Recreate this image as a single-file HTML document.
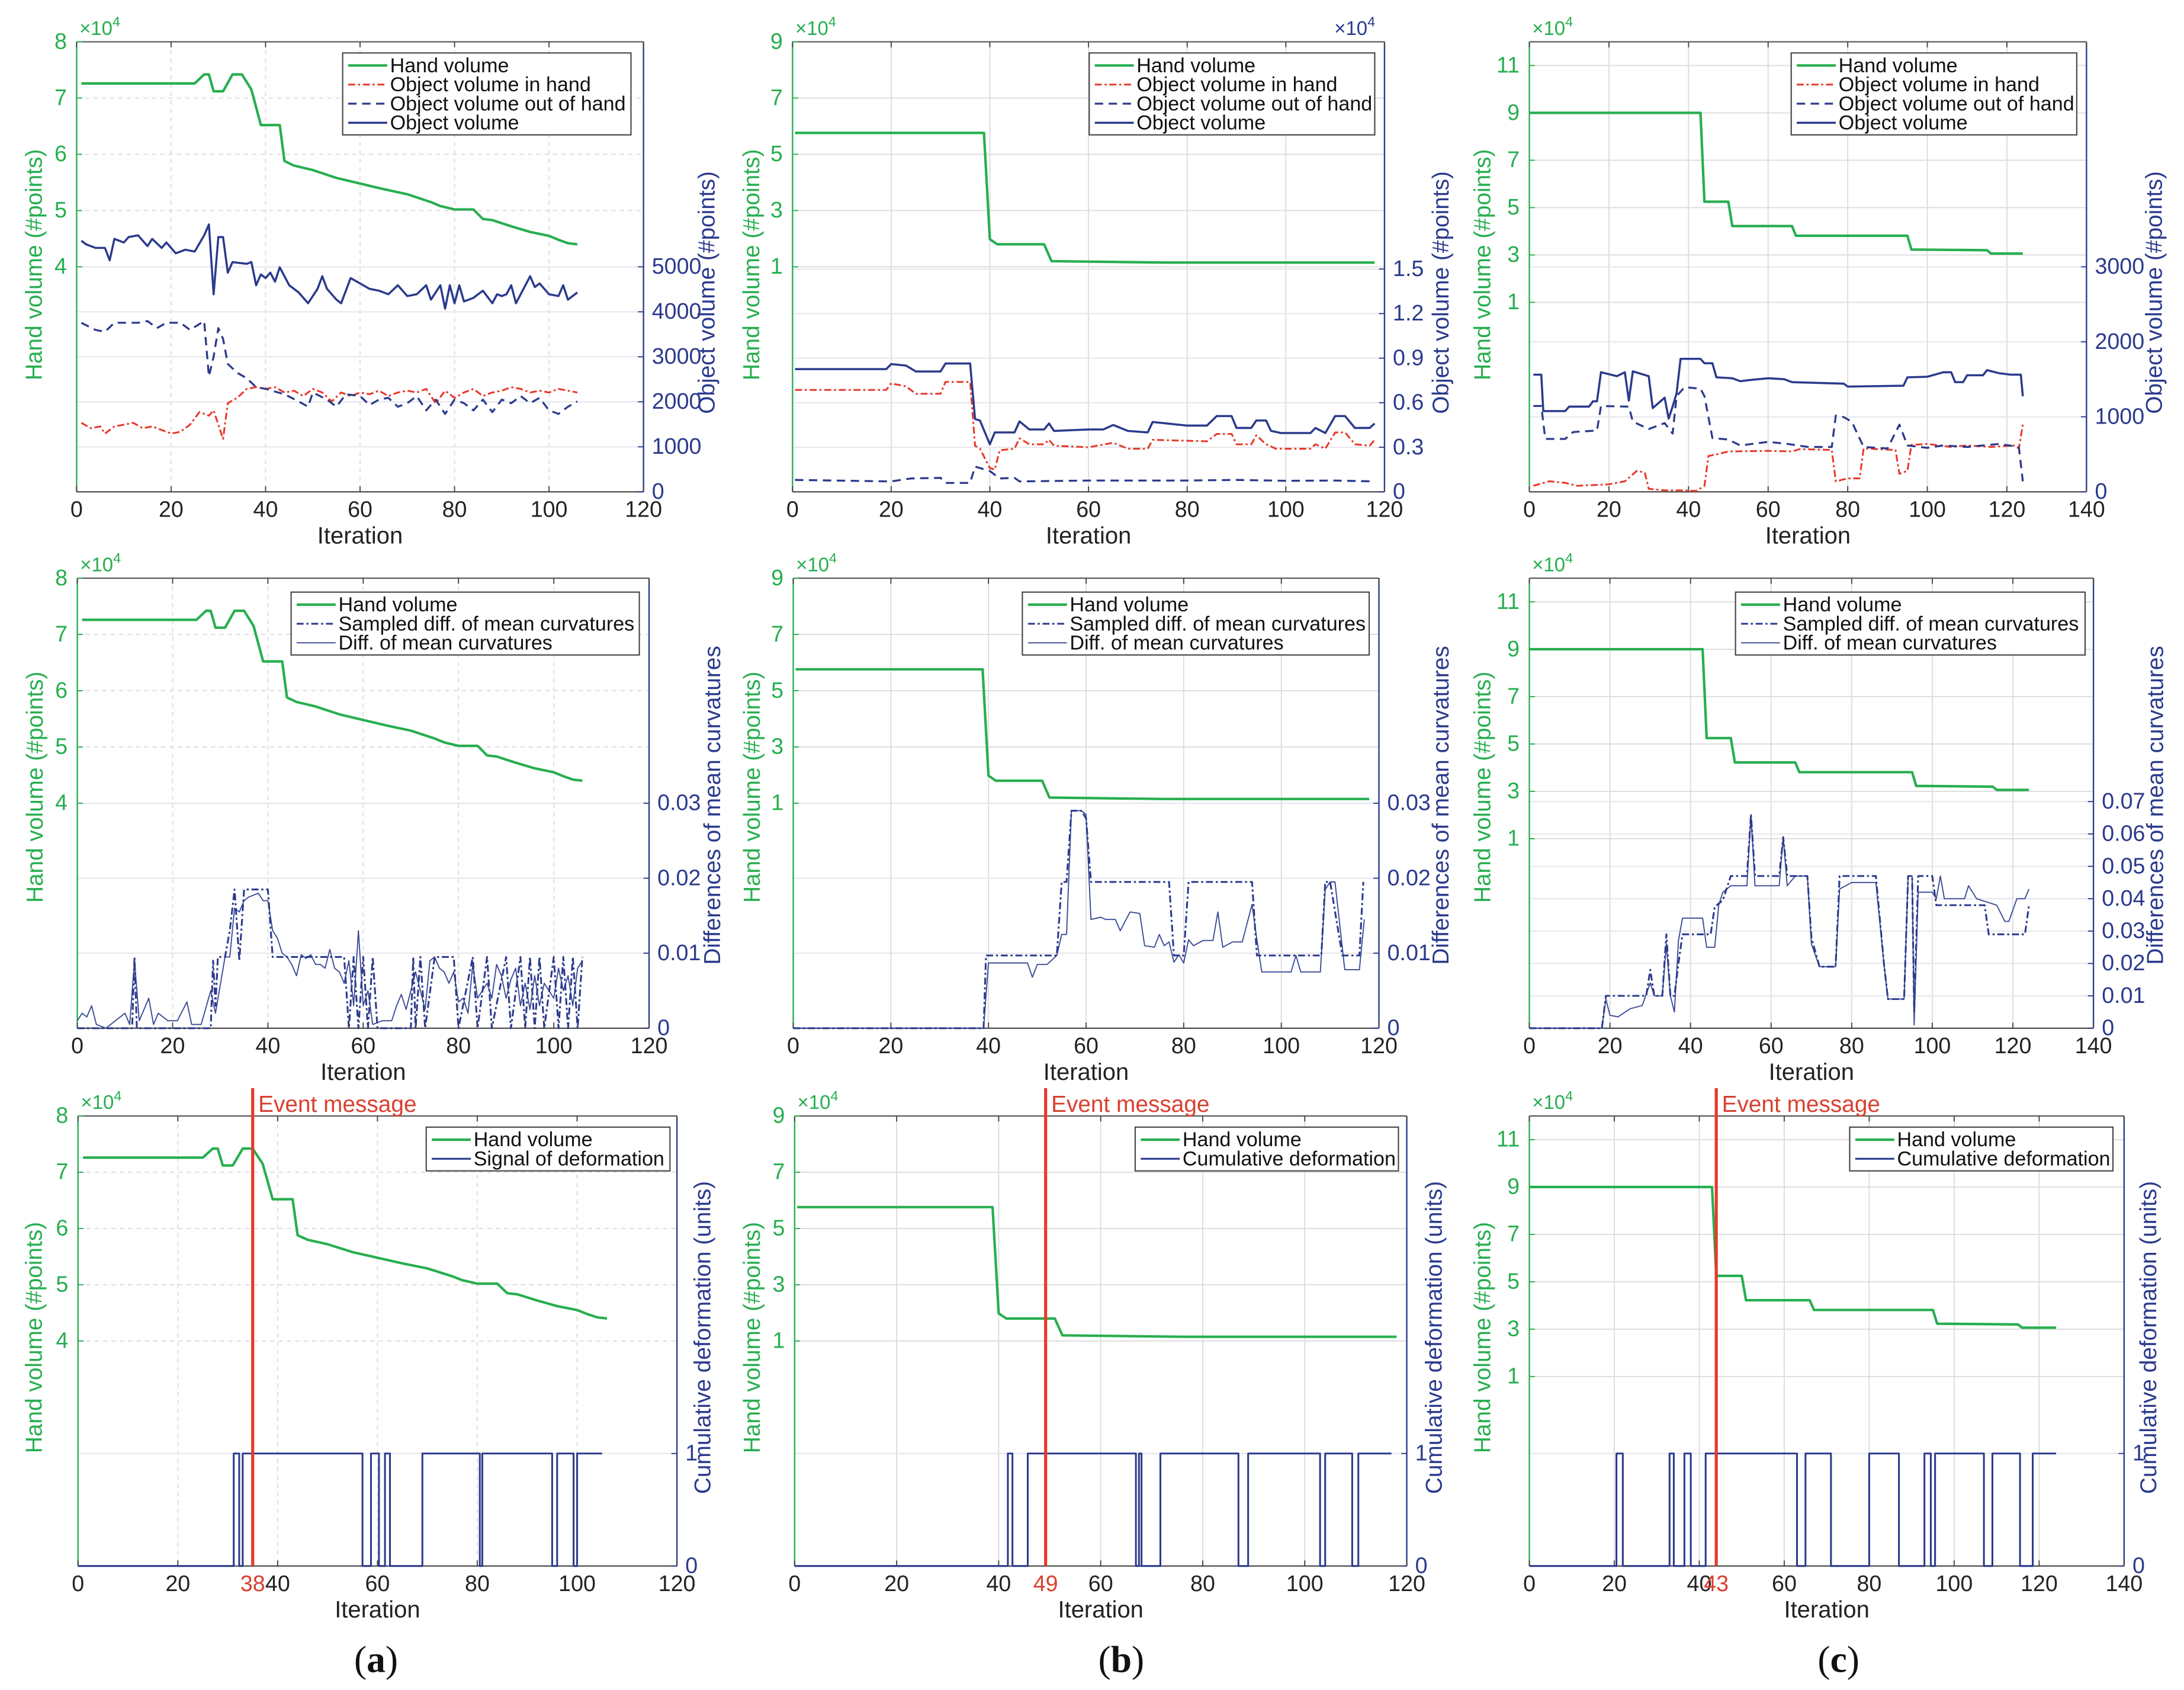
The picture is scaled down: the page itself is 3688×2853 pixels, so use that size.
<!DOCTYPE html>
<html><head><meta charset="utf-8"><style>
html,body{margin:0;padding:0;background:#fff}
svg{display:block}
text{font-family:"Liberation Sans",sans-serif}
text.serif{font-family:"Liberation Serif",serif}
</style></head><body>
<svg id="fig" xmlns="http://www.w3.org/2000/svg" width="3688" height="2853" viewBox="0 0 1568 1213"></svg>
<script>
// ===== DATA =====
// Column (a)
const handAIter=[1,25,27,28,29,31,33,35,37,39,43,44,46,50,55,60,65,70,75,77,80,84,86,88,92,96,100,102,104,106];
const handAVal=[7.26,7.26,7.42,7.42,7.12,7.12,7.42,7.42,7.15,6.52,6.52,5.88,5.80,5.72,5.58,5.48,5.38,5.29,5.15,5.08,5.02,5.02,4.85,4.83,4.72,4.62,4.55,4.48,4.42,4.40];
const objAIter=[1,2,4,6,7,8,10,11,13,15,16,18,19,21,23,25,27,28,29,30,31,32,33,36,37,38,39,40,41,42,43,45,47,49,51,52,53,55,56,58,60,62,64,66,68,70,72,74,75,77,78,79,80,81,82,84,86,88,89,90,91,92,93,96,97,98,100,102,103,104,106];
const objAVal=[5580,5500,5420,5420,5145,5620,5540,5660,5700,5460,5620,5420,5540,5300,5380,5340,5700,5940,4390,5660,5660,4870,5105,5066,5105,4590,4830,4750,4870,4670,4990,4590,4430,4190,4510,4790,4510,4270,4190,4750,4630,4510,4470,4390,4590,4350,4390,4590,4270,4590,4070,4590,4190,4590,4230,4310,4470,4190,4390,4350,4390,4590,4190,4790,4550,4630,4390,4350,4590,4270,4430];
const outAIter=[1,4,6,8,13,15,17,19,22,24,27,28,29,30,31,32,34,36,38,40,44,47,49,50,53,55,57,60,62,64,66,68,70,72,74,76,78,80,82,84,86,88,90,92,94,96,98,100,102,104,106];
const outAVal=[3756,3597,3557,3756,3756,3795,3637,3756,3756,3597,3795,2565,3001,3637,3398,2843,2644,2525,2326,2287,2168,2009,1890,2207,2049,1890,2168,2128,1929,2049,2088,1890,1969,2128,1810,2049,1731,2049,1969,1810,2049,1771,2049,1969,2128,1969,2088,1810,1731,1890,2009];
const inAIter=[1,3,5,6,8,10,12,14,16,18,20,22,24,26,28,29,31,32,34,36,38,40,42,44,46,48,50,52,54,56,58,60,62,64,66,68,70,72,74,76,78,80,82,84,86,88,90,92,94,96,98,100,102,104,106];
const inAVal=[1532,1413,1453,1294,1453,1493,1532,1413,1453,1374,1294,1334,1493,1771,1691,1810,1175,1969,2088,2287,2326,2287,2326,2207,2247,2128,2287,2207,2009,2207,2128,2207,2168,2247,2128,2207,2247,2207,2287,1969,2247,2088,2207,2287,2128,2207,2247,2326,2287,2207,2247,2207,2287,2247,2207];
const curvSampAIter=[0,11.5,12,12.5,28,28.5,29,29.5,31,32,33,34,35,40,41,56,57,58,59,60,61,62,63,70,70.5,71,72,73,75,79,80,83,84,86,87,90,91,93,94,95,96,97,98,100,101,102,103,104,105,106];
const curvSampAVal=[0,0,0.0095,0,0,0.009,0.003,0.0095,0.0095,0.013,0.0185,0.009,0.0185,0.0185,0.0095,0.0095,0,0.0095,0,0.0095,0,0.0095,0,0,0.0095,0,0.0095,0,0.0095,0.0095,0,0.0095,0,0.0095,0,0.0095,0,0.0095,0,0.0095,0,0.0095,0,0.0095,0,0.0095,0,0.0095,0,0.0095];
const curvAIter=[0,1,2,3,4,6,8,10,11,12,13,15,16,17,19,21,23,24,26,28,29,31,32,33,34,35,36,38,39,40,41,42,43,44,45,46,47,48,49,50,51,52,53,54,55,56,57,58,59,60,61,62,64,66,67,68,69,70,71,72,73,74,75,76,77,78,79,80,81,82,83,84,86,87,88,89,90,91,92,93,94,95,96,97,98,99,100,101,102,103,104,105,106];
const curvAVal=[0.001,0.002,0.0015,0.003,0.0005,0,0.001,0.002,0.0005,0.009,0.001,0.004,0.0005,0.002,0.001,0.001,0.0035,0.0005,0.0005,0.005,0.002,0.0095,0.0095,0.016,0.0155,0.017,0.0175,0.018,0.017,0.017,0.013,0.012,0.01,0.0095,0.0085,0.007,0.0098,0.0093,0.0098,0.0085,0.0085,0.008,0.0105,0.008,0.0075,0.006,0.009,0.003,0.013,0.003,0.005,0.0005,0.001,0.001,0.003,0.0045,0.0025,0.005,0.0075,0.005,0.0025,0.009,0.0095,0.008,0.0075,0.006,0.0075,0.0035,0.004,0.002,0.0085,0.004,0.006,0.004,0.0085,0.007,0.004,0.0065,0.008,0.003,0.006,0.0025,0.007,0.003,0.006,0.005,0.004,0.008,0.005,0.007,0.003,0.008,0.009];
const defAIter=[0,31.2,32.3,33,57,58.7,60.3,61.5,62.5,69,80.5,81,95,96,99.3,100,105];
const defAVal=[0,1,0,1,0,1,0,1,0,1,0,1,0,1,0,1,1];
// Column (b)
const handBIter=[0.5,38.8,40,41.5,51,52.5,76,118];
const handBVal=[5.76,5.76,1.98,1.8,1.8,1.2,1.15,1.15];
const objBIter=[0.5,19,20,23,25,30,31,36,37,38,40,41,45,46,48,51,52,53,60,63,65,68,72,73,80,84,86,89,90,93,94,96,97,99,105,106,108,110,112,114,117,118];
const objBVal=[0.826,0.826,0.86,0.85,0.81,0.81,0.864,0.864,0.49,0.48,0.32,0.40,0.40,0.474,0.42,0.42,0.46,0.41,0.42,0.42,0.45,0.41,0.40,0.47,0.446,0.446,0.51,0.51,0.43,0.43,0.48,0.48,0.41,0.396,0.396,0.43,0.396,0.51,0.51,0.43,0.43,0.46];
const inBIter=[0.5,19,20,23,25,30,31,36,37,38,40,41,42,45,46,48,51,52,53,60,65,68,72,73,84,86,89,90,93,94,96,98,105,106,108,110,112,114,117,118];
const inBVal=[0.686,0.686,0.73,0.71,0.66,0.66,0.74,0.74,0.31,0.29,0.16,0.15,0.28,0.29,0.36,0.32,0.32,0.35,0.31,0.30,0.33,0.29,0.29,0.35,0.34,0.39,0.39,0.32,0.32,0.38,0.32,0.29,0.29,0.32,0.29,0.40,0.40,0.32,0.31,0.35];
const outBIter=[0.5,20,24,30,31,36,37,40,42,45,46,60,80,90,100,110,118];
const outBVal=[0.08,0.07,0.09,0.094,0.06,0.06,0.17,0.14,0.09,0.094,0.07,0.076,0.076,0.08,0.074,0.076,0.07];
const curvSampBIter=[0,39,39.5,54,55,56,57,59,60,61,77,78,80,81,94,95,108.2,109,110,112.5,116,116.8];
const curvSampBVal=[0,0,0.0097,0.0097,0.0195,0.0195,0.029,0.029,0.028,0.0195,0.0195,0.0097,0.0097,0.0195,0.0195,0.0097,0.0097,0.0195,0.0195,0.0097,0.0097,0.0195];
const curvBIter=[0,39,40,48,49,50,52,54,55,56,57,59,60,61,63,64,66,67,69,71,72,74,75,76,77,78,79,80,81,82,84,86,87,88,90,92,94,95,96,102,103,104,108,109,110,111,113,116,117];
const curvBVal=[0,0,0.0087,0.0087,0.0068,0.0085,0.0085,0.0097,0.0125,0.0125,0.029,0.029,0.0285,0.0145,0.0148,0.0145,0.0145,0.013,0.0155,0.0153,0.011,0.0108,0.0125,0.011,0.0115,0.0088,0.0098,0.0087,0.0118,0.011,0.0117,0.0117,0.0155,0.0108,0.0115,0.0115,0.0165,0.0118,0.0075,0.0075,0.0097,0.0075,0.0075,0.0185,0.0195,0.0195,0.0078,0.0078,0.0145];
const defBIter=[0,41.8,42.7,45.7,66.9,67.5,68,68.5,71.7,87,88.9,103,104,109.3,110.5,117];
const defBVal=[0,1,0,1,0,1,0,0,1,0,1,0,1,0,1,1];
// Column (c)
const handCIter=[0,43,44,50,51,66,67,95,96,115,116,124];
const handCVal=[9.0,9.0,5.25,5.25,4.22,4.22,3.81,3.81,3.23,3.2,3.06,3.06];
const objCIter=[1,3,3.5,9,10,15,16,17,18,22,24,25,26,30,31,34,35,36,37,38,43,44,46,47,51,53,56,60,64,66,79,80,94,95,100,104,106,107,109,110,114,115,118,121,123.5,124];
const objCVal=[1562,1562,1076,1076,1136,1136,1207,1207,1594,1542,1594,1215,1606,1542,1116,1255,976,1136,1315,1773,1773,1714,1714,1526,1514,1475,1494,1514,1502,1462,1442,1403,1415,1526,1534,1594,1594,1462,1462,1554,1554,1622,1582,1562,1562,1275];
const outCIter=[1,3,4,9,11,17,18,25,26,30,34,36,37,39,43,44,46,50,53,60,65,70,76,77,79,81,84,90,93,95,100,104,110,118,123,124];
const outCVal=[1144,1144,705,705,797,817,1144,1136,936,837,916,777,1275,1395,1375,1275,717,697,618,666,638,598,598,1016,996,936,598,578,896,618,586,618,598,638,598,140];
const inCIter=[1,5,9,12,20,24,27,29,30,34,38,42,44,45,47,50,60,66,68,76,77,80,83,84,92,93,95,96,100,106,110,116,122,123,124];
const inCVal=[80,140,120,80,100,140,279,259,40,20,20,12,80,478,498,538,546,538,570,558,140,179,179,578,558,239,279,626,638,598,618,598,618,578,897];
const curvSampCIter=[0,18,19,29,30,31,33,34,35,36,37,38,45,46,48,50,54,55,56,62,63,64,69,70,72,76,77,86,88,89,93,94,95,95.5,96.5,100,101,113,114,123,124];
const curvSampCVal=[0,0,0.01,0.01,0.018,0.01,0.01,0.029,0.01,0.01,0.02,0.029,0.029,0.0375,0.0395,0.047,0.047,0.066,0.047,0.047,0.059,0.047,0.047,0.028,0.019,0.019,0.047,0.047,0.02,0.009,0.009,0.047,0.047,0.005,0.047,0.047,0.038,0.038,0.029,0.029,0.038];
const curvCIter=[0,18,19,20,22,25,28,30,31,33,34,35,36,37,38,43,44,46,47,48,50,54,55,56,62,63,64,66,69,70,72,76,77,80,86,88,89,93,94,95,95.5,96.5,100,101,102,103,108,109,111,116,118,119,121,123,124];
const curvCVal=[0,0,0.009,0.004,0.0035,0.006,0.007,0.014,0.01,0.01,0.026,0.01,0.005,0.027,0.034,0.034,0.025,0.025,0.038,0.042,0.044,0.044,0.066,0.044,0.044,0.059,0.044,0.047,0.047,0.026,0.019,0.019,0.043,0.045,0.045,0.02,0.009,0.009,0.047,0.047,0.001,0.042,0.042,0.04,0.047,0.04,0.04,0.044,0.04,0.038,0.033,0.033,0.04,0.04,0.043];
const defCIter=[0,20.5,22,33,34,36.5,38,41.5,63,65,71,80,87,93,94.5,95.5,107,109,115.5,118.5,124];
const defCVal=[0,1,0,1,0,1,0,1,0,1,0,1,0,1,0,1,0,1,0,1,1];
// Tick labels
const xTicksAB=[0,20,40,60,80,100,120];
const xTicksC=[0,20,40,60,80,100,120,140];
const handTicksA=[4,5,6,7,8];
const handTicksBC_B=[1,3,5,7,9];
const handTicksC=[1,3,5,7,9,11];
const objTicksA=[0,1000,2000,3000,4000,5000];
const objTicksB=[0,0.3,0.6,0.9,1.2,1.5];
const objTicksC=[0,1000,2000,3000];
const curvTicksAB=[0,0.01,0.02,0.03];
const curvTicksC=[0,0.01,0.02,0.03,0.04,0.05,0.06,0.07];
const defTicks=[0,1];
const events=[35,49.2,44];
const eventLabels=["38","49","43"];

// ===== DRAW =====
const NS="http://www.w3.org/2000/svg";
const svg=document.getElementById('fig');
const GREEN="#27ae4f",BLUE="#2b3a8c",RED="#e8392b",GRID="#dcdcdc";
function el(tag,attrs,parent){const e=document.createElementNS(NS,tag);for(const k in attrs)e.setAttribute(k,attrs[k]);(parent||svg).appendChild(e);return e;}
function txt(s,attrs,parent){const t=el('text',attrs,parent);t.textContent=s;return t;}
function fmt(v){return String(v);}

function panel(c){
  const g=el('g',{});
  
  
  const sx=v=>c.x0+(v-0)/(c.xmax)*(c.x1-c.x0);
  const yl=v=>c.y1-(v-c.lmin)/(c.lmax-c.lmin)*(c.y1-c.y0);
  const yr=v=>c.y1-(v-c.rmin)/(c.rmax-c.rmin)*(c.y1-c.y0);
  const da=c.dash?'3,3':'none';
  c.xt.forEach(v=>{ if(v>0&&v<c.xmax){const l=el('line',{x1:sx(v),x2:sx(v),y1:c.y0,y2:c.y1,stroke:GRID,'stroke-width':0.8,'stroke-dasharray':da},g);}});
  c.lt.forEach(v=>{const y=yl(v); if(y>c.y0+1&&y<c.y1-1){const l=el('line',{x1:c.x0,x2:c.x1,y1:y,y2:y,stroke:GRID,'stroke-width':0.8,'stroke-dasharray':da},g);}});
  c.rt.forEach(v=>{const y=yr(v); if(y>c.y0+1&&y<c.y1-1){const l=el('line',{x1:c.x0,x2:c.x1,y1:y,y2:y,stroke:"#e4e4ec",'stroke-width':0.8},g);}});
  el('line',{x1:c.x0,x2:c.x1,y1:c.y0,y2:c.y0,stroke:'#555','stroke-width':0.9},g);
  el('line',{x1:c.x0,x2:c.x1,y1:c.y1,y2:c.y1,stroke:'#444','stroke-width':0.9},g);
  const la=el('line',{x1:c.x0,x2:c.x0,y1:c.y0,y2:c.y1,stroke:GREEN,'stroke-width':1},g);
  
  const ra=el('line',{x1:c.x1,x2:c.x1,y1:c.y0,y2:c.y1,stroke:BLUE,'stroke-width':1},g);
  
  c.xt.forEach(v=>{
    el('line',{x1:sx(v),x2:sx(v),y1:c.y1,y2:c.y1-4,stroke:'#444','stroke-width':0.8},g);
    el('line',{x1:sx(v),x2:sx(v),y1:c.y0,y2:c.y0+4,stroke:'#444','stroke-width':0.8},g);
    const t=txt(fmt(v),{x:sx(v),y:c.y1+18,'font-size':16,'text-anchor':'middle',fill:'#222'},g);
    
  });
  c.lt.forEach(v=>{
    el('line',{x1:c.x0,x2:c.x0+4,y1:yl(v),y2:yl(v),stroke:GREEN,'stroke-width':0.8},g);
    const t=txt(fmt(v),{x:c.x0-7,y:yl(v)+5,'font-size':16,'text-anchor':'end',fill:GREEN},g);
    
  });
  c.rt.forEach(v=>{
    el('line',{x1:c.x1,x2:c.x1-4,y1:yr(v),y2:yr(v),stroke:BLUE,'stroke-width':0.8},g);
    const t=txt(fmt(v),{x:c.x1+6,y:yr(v)+5,'font-size':16,'text-anchor':'start',fill:BLUE},g);
    
  });
  const ex=el('text',{x:c.x0+2,y:c.y0-5,'font-size':14,fill:GREEN},g);
  
  ex.innerHTML='×10<tspan dy="-6" font-size="10">4</tspan>';
  if(c.rexp){const e2=el('text',{x:c.x1-36,y:c.y0-5,'font-size':14,fill:BLUE},g);
    
    e2.innerHTML='×10<tspan dy="-6" font-size="10">4</tspan>';}
  const xtl=txt('Iteration',{x:(c.x0+c.x1)/2,y:c.y1+37,'font-size':17,'text-anchor':'middle',fill:'#222'},g);
  
  const lx=c.x0-c.ltOff, ly=c.ltY;
  const lt=txt('Hand volume (#points)',{x:lx,y:ly,'font-size':16.5,'text-anchor':'middle',fill:GREEN,transform:`rotate(-90 ${lx} ${ly})`},g);
  
  const rx=c.x1+c.rtOff, ry=c.rtY;
  const rtt=txt(c.rtitle,{x:rx,y:ry,'font-size':16.5,'text-anchor':'middle',fill:BLUE,transform:`rotate(-90 ${rx} ${ry})`},g);
  
  return {g,sx,yl,yr,c};
}
function line(p,xs,ys,ax,style,name,step){
  const f=ax==='l'?p.yl:p.yr;let d='';
  for(let i=0;i<xs.length;i++){
    const X=p.sx(xs[i]).toFixed(2),Y=f(ys[i]).toFixed(2);
    if(i===0)d+='M'+X+' '+Y;
    else if(step){d+='L'+X+' '+f(ys[i-1]).toFixed(2)+'L'+X+' '+Y;}
    else d+='L'+X+' '+Y;
  }
  const e=el('path',Object.assign({d:d,fill:'none','stroke-linejoin':'round'},style),p.g);
  
  
  return e;
}
function legend(x,y,w,entries,name){
  const g=el('g',{});
  
  
  const h=entries.length*13.7+4;
  el('rect',{x:x,y:y,width:w,height:h,fill:'#fff',stroke:'#444','stroke-width':0.9},g);
  entries.forEach((en,i)=>{
    const yy=y+9+i*13.7;
    el('line',Object.assign({x1:x+4,x2:x+32,y1:yy,y2:yy},en.s),g);
    const t=txt(en.t,{x:x+34,y:yy+4.8,'font-size':14.5,fill:'#111'},g);
    
  });
}
const S_HAND={stroke:GREEN,'stroke-width':1.8};
const S_OBJ={stroke:BLUE,'stroke-width':1.5};
const S_OUT={stroke:BLUE,'stroke-width':1.4,'stroke-dasharray':'6,4'};
const S_IN={stroke:RED,'stroke-width':1.3,'stroke-dasharray':'5,2,1.5,2'};
const S_SAMP={stroke:BLUE,'stroke-width':1.3,'stroke-dasharray':'5,2,1.5,2'};
const S_DIFF={stroke:'#3a4a96','stroke-width':0.8};
const S_DEF={stroke:BLUE,'stroke-width':1.3};

const R1=[30,353],R2=[415,738],R3=[801,1124];
const rowCfg=[
 {name:'panel-a-volume',x0:55,x1:462,y0:R1[0],y1:R1[1],xmax:120,lmin:0,lmax:8,rmin:0,rmax:10000,xt:xTicksAB,lt:handTicksA,rt:objTicksA,dash:true,ltOff:25,ltY:190,rtOff:51,rtY:210,rtitle:'Object volume (#points)'},
 {name:'panel-b-volume',x0:569,x1:994,y0:R1[0],y1:R1[1],xmax:120,lmin:-7,lmax:9,rmin:0,rmax:3.03,xt:xTicksAB,lt:handTicksBC_B,rt:objTicksB,rexp:true,ltOff:24,ltY:190,rtOff:46,rtY:210,rtitle:'Object volume (#points)'},
 {name:'panel-c-volume',x0:1098,x1:1498,y0:R1[0],y1:R1[1],xmax:140,lmin:-7,lmax:12,rmin:0,rmax:6000,xt:xTicksC,lt:handTicksC,rt:objTicksC,ltOff:28,ltY:190,rtOff:54,rtY:210,rtitle:'Object volume (#points)'},
 {name:'panel-a-curvature',x0:55.5,x1:466,y0:R2[0],y1:R2[1],xmax:120,lmin:0,lmax:8,rmin:0,rmax:0.06,xt:xTicksAB,lt:handTicksA,rt:curvTicksAB,dash:true,ltOff:25,ltY:565,rtOff:51,rtY:578,rtitle:'Differences of mean curvatures'},
 {name:'panel-b-curvature',x0:569.5,x1:990,y0:R2[0],y1:R2[1],xmax:120,lmin:-7,lmax:9,rmin:0,rmax:0.06,xt:xTicksAB,lt:handTicksBC_B,rt:curvTicksAB,ltOff:24,ltY:565,rtOff:50,rtY:578,rtitle:'Differences of mean curvatures'},
 {name:'panel-c-curvature',x0:1098,x1:1503,y0:R2[0],y1:R2[1],xmax:140,lmin:-7,lmax:12,rmin:0,rmax:0.139,xt:xTicksC,lt:handTicksC,rt:curvTicksC,ltOff:28,ltY:565,rtOff:50,rtY:578,rtitle:'Differences of mean curvatures'},
 {name:'panel-a-deformation',x0:56,x1:486,y0:R3[0],y1:R3[1],xmax:120,lmin:0,lmax:8,rmin:0,rmax:4,xt:xTicksAB,lt:handTicksA,rt:defTicks,dash:true,ltOff:26,ltY:960,rtOff:24,rtY:960,rtitle:'Cumulative deformation (units)'},
 {name:'panel-b-deformation',x0:570.5,x1:1010,y0:R3[0],y1:R3[1],xmax:120,lmin:-7,lmax:9,rmin:0,rmax:4,xt:xTicksAB,lt:handTicksBC_B,rt:defTicks,ltOff:25,ltY:960,rtOff:25,rtY:960,rtitle:'Cumulative deformation (units)'},
 {name:'panel-c-deformation',x0:1098,x1:1525,y0:R3[0],y1:R3[1],xmax:140,lmin:-7,lmax:12,rmin:0,rmax:4,xt:xTicksC,lt:handTicksC,rt:defTicks,ltOff:28,ltY:960,rtOff:23,rtY:960,rtitle:'Cumulative deformation (units)'}
];
const P=rowCfg.map(panel);
line(P[0],handAIter,handAVal,'l',S_HAND,'hand-volume-line');
line(P[0],inAIter,inAVal,'r',S_IN,'object-in-hand-line');
line(P[0],outAIter,outAVal,'r',S_OUT,'object-out-of-hand-line');
line(P[0],objAIter,objAVal,'r',S_OBJ,'object-volume-line');
line(P[1],handBIter,handBVal,'l',S_HAND,'hand-volume-line');
line(P[1],inBIter,inBVal,'r',S_IN,'object-in-hand-line');
line(P[1],outBIter,outBVal,'r',S_OUT,'object-out-of-hand-line');
line(P[1],objBIter,objBVal,'r',S_OBJ,'object-volume-line');
line(P[2],handCIter,handCVal,'l',S_HAND,'hand-volume-line');
line(P[2],inCIter,inCVal,'r',S_IN,'object-in-hand-line');
line(P[2],outCIter,outCVal,'r',S_OUT,'object-out-of-hand-line');
line(P[2],objCIter,objCVal,'r',S_OBJ,'object-volume-line');
[[P[3],handAIter,handAVal,curvSampAIter,curvSampAVal,curvAIter,curvAVal],
 [P[4],handBIter,handBVal,curvSampBIter,curvSampBVal,curvBIter,curvBVal],
 [P[5],handCIter,handCVal,curvSampCIter,curvSampCVal,curvCIter,curvCVal]].forEach(r=>{
  line(r[0],r[1],r[2],'l',S_HAND,'hand-volume-line');
  line(r[0],r[5],r[6],'r',S_DIFF,'diff-mean-curvature-line');
  line(r[0],r[3],r[4],'r',S_SAMP,'sampled-diff-curvature-line');
});
[[P[6],handAIter,handAVal,defAIter,defAVal],[P[7],handBIter,handBVal,defBIter,defBVal],[P[8],handCIter,handCVal,defCIter,defCVal]].forEach((r,i)=>{
  line(r[0],r[1],r[2],'l',S_HAND,'hand-volume-line');
  line(r[0],r[3],r[4],'r',S_DEF,'deformation-signal-line',true);
  const p=r[0],x=p.sx(events[i]);
  const ev=el('line',{x1:x,x2:x,y1:p.c.y0-20,y2:p.c.y1,stroke:RED,'stroke-width':2.2},p.g);
  
  const et=txt('Event message',{x:x+4,y:p.c.y0-3,'font-size':16.5,fill:'#d9402f'},p.g);
  
  const tl=txt(eventLabels[i],{x:x,y:p.c.y1+18,'font-size':16,'text-anchor':'middle',fill:'#d9402f'},p.g);
  
});
const L1=[{t:'Hand volume',s:S_HAND},{t:'Object volume in hand',s:S_IN},{t:'Object volume out of hand',s:S_OUT},{t:'Object volume',s:S_OBJ}];
legend(246,38,207,L1,'legend-a-volume');
legend(782,38,205,L1,'legend-b-volume');
legend(1286,38,205,L1,'legend-c-volume');
const L2=[{t:'Hand volume',s:S_HAND},{t:'Sampled diff. of mean curvatures',s:S_SAMP},{t:'Diff. of mean curvatures',s:S_DIFF}];
legend(209,425,250,L2,'legend-a-curvature');
legend(734,425,249,L2,'legend-b-curvature');
legend(1246,425,251,L2,'legend-c-curvature');
legend(306,809,175,[{t:'Hand volume',s:S_HAND},{t:'Signal of deformation',s:S_DEF}],'legend-a-deformation');
legend(815,809,189,[{t:'Hand volume',s:S_HAND},{t:'Cumulative deformation',s:S_DEF}],'legend-b-deformation');
legend(1328,809,189,[{t:'Hand volume',s:S_HAND},{t:'Cumulative deformation',s:S_DEF}],'legend-c-deformation');
[['(a)',270],['(b)',805],['(c)',1320]].forEach(s=>{
  const t=el('text',{x:s[1],y:1200,'font-size':27,'text-anchor':'middle',fill:'#111','class':'serif'});
  
  
  t.innerHTML='(<tspan font-weight="bold">'+s[0][1]+'</tspan>)';
});
</script>
</body></html>
